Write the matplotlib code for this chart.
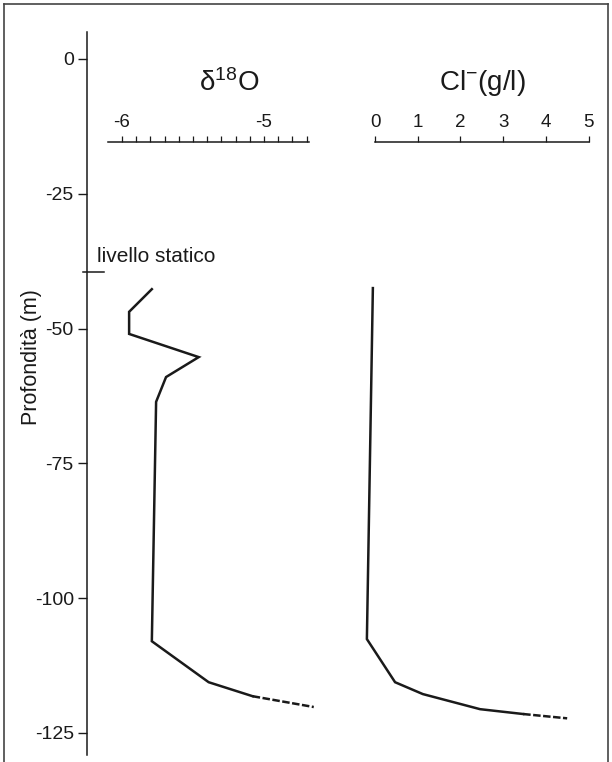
import matplotlib
matplotlib.use("Agg")
import matplotlib.pyplot as plt
from matplotlib.lines import Line2D

plt.rcParams['font.family'] = ['Liberation Sans', 'DejaVu Sans']
plt.rcParams['mathtext.fontset'] = 'custom'
plt.rcParams['mathtext.rm'] = 'Liberation Sans'
plt.rcParams['mathtext.it'] = 'Liberation Sans:italic'

# data
depth_ticks = [0, -25, -50, -75, -100, -125]
static_level = -39.5

depth_o18 = [-42.7, -46.9, -51.0, -55.3, -59.0, -63.6, -108.0, -115.6, -118.2, -120.2]
d18o = [-5.79, -5.95, -5.95, -5.46, -5.69, -5.76, -5.79, -5.39, -5.08, -4.65]

depth_cl = [-42.5, -107.6, -115.6, -117.8, -120.6, -121.5, -122.3]
cl = [-0.05, -0.19, 0.47, 1.12, 2.46, 3.47, 4.50]

o18_major = [-6, -5]
o18_minor = [-6 + 0.1 * i for i in range(14)]
cl_ticks = [0, 1, 2, 3, 4, 5]

W, H = 612, 762
ink = '#1a1a1a'


def box(x0, x1, y_top, y_bot):
    return [x0 / W, 1 - y_bot / H, (x1 - x0) / W, (y_bot - y_top) / H]


fig = plt.figure(figsize=(W / 100, H / 100), dpi=100)
ylim = (-129.1, 5.0)
scale_depth = -15.4  # where the two scale bars sit

# depth axis
ax = fig.add_axes(box(87, 600, 32, 755))
ax.patch.set_visible(False)
ax.set_ylim(*ylim)
ax.set_xlim(0, 1)
for s in ['top', 'right', 'bottom']:
    ax.spines[s].set_visible(False)
ax.spines['left'].set_color(ink)
ax.spines['left'].set_linewidth(1.1)
ax.set_xticks([])
ax.set_yticks(depth_ticks)
ax.set_yticklabels([str(t) for t in depth_ticks])
ax.tick_params(axis='y', length=6.5, width=1.0, pad=3, labelsize=14, color=ink, labelcolor=ink)
ax.plot([-4 / 513, 17 / 513], [static_level, static_level], color=ink, lw=1.1,
        transform=ax.get_yaxis_transform(), clip_on=False)
fig.text(97 / W, 1 - 257 / H, 'livello statico', fontsize=15, ha='left', va='center', color=ink)
fig.text(31 / W, 1 - 357 / H, 'Profondità (m)', fontsize=15.5, rotation=90, ha='center', va='center', color=ink)


def scale_axes(x0, x1, xlim, bounds):
    a = fig.add_axes(box(x0, x1, 32, 755))
    a.patch.set_visible(False)
    a.set_xlim(*xlim)
    a.set_ylim(*ylim)
    for s in ['left', 'right', 'bottom']:
        a.spines[s].set_visible(False)
    a.spines['top'].set_position(('data', scale_depth))
    a.spines['top'].set_bounds(*bounds)
    a.spines['top'].set_color(ink)
    a.spines['top'].set_linewidth(1.1)
    a.xaxis.tick_top()
    a.set_yticks([])
    a.tick_params(axis='x', which='both', direction='out', length=4, width=0.9,
                  pad=4, labelsize=13.5, color=ink, labelcolor=ink)
    return a


# delta 18O panel
ax1 = scale_axes(100, 320, (-6.155, -4.606), (-6.1, -4.68))
ax1.set_xticks(o18_major)
ax1.set_xticklabels([str(t) for t in o18_major])
ax1.set_xticks(o18_minor, minor=True)
ax1.plot(d18o[:-1], depth_o18[:-1], color=ink, lw=1.8, solid_joinstyle='miter', clip_on=False)
ax1.plot(d18o[-2:], depth_o18[-2:], color=ink, lw=1.8, dashes=(3, 1), clip_on=False)
fig.text(229 / W, 1 - 83 / H, 'δ$^{18}$O', fontsize=20, ha='center', va='center', color=ink)

# chloride panel
ax2 = scale_axes(340, 600, (-0.8197, 5.269), (0, 5))
ax2.set_xticks(cl_ticks)
ax2.set_xticklabels([str(t) for t in cl_ticks])
ax2.plot(cl[:-1], depth_cl[:-1], color=ink, lw=1.8, solid_joinstyle='miter', clip_on=False)
ax2.plot(cl[-2:], depth_cl[-2:], color=ink, lw=1.8, dashes=(3, 1), clip_on=False)
fig.text(482 / W, 1 - 83 / H, 'Cl$^{-}$(g/l)', fontsize=20, ha='center', va='center', color=ink)

# picture frame
for xs, ys in [([4, 4], [4, 780]), ([4, 608], [4, 4]), ([608, 608], [4, 780])]:
    fig.add_artist(Line2D([x / W for x in xs], [1 - y / H for y in ys], color='#444444', lw=1.2))

fig.savefig('out.png', dpi=100)
